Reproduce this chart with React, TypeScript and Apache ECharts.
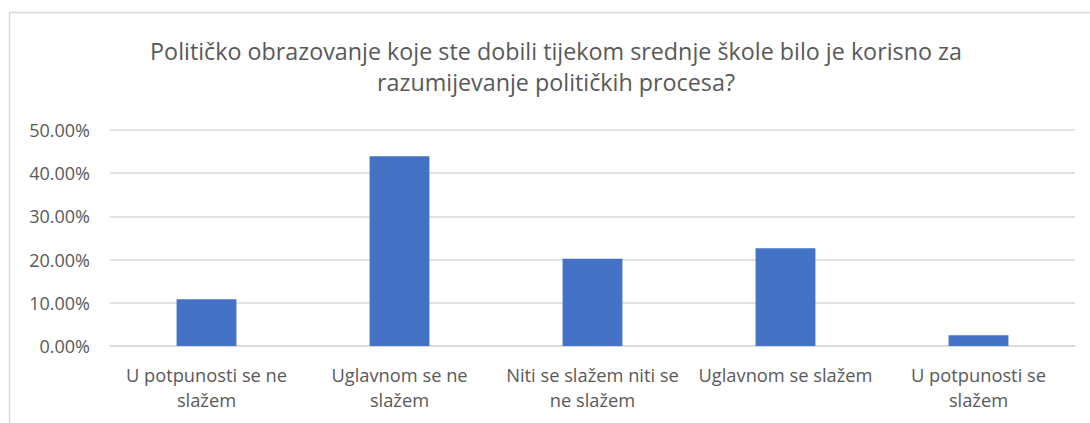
import React, { useEffect, useRef } from "react";
import * as echarts from "echarts";

const categories = [
  "U potpunosti se ne\nslažem",
  "Uglavnom se ne\nslažem",
  "Niti se slažem niti se\nne slažem",
  "Uglavnom se slažem",
  "U potpunosti se\nslažem",
];
const values = [10.8, 43.9, 20.2, 22.6, 2.5];
const titleText =
  "Političko obrazovanje koje ste dobili tijekom srednje škole bilo je korisno za\nrazumijevanje političkih procesa?";

const FONT = "'Open Sans', sans-serif";

export default function App() {
  const ref = useRef<HTMLDivElement>(null);
  useEffect(() => {
    if (!ref.current) return;
    const chart = echarts.init(ref.current, undefined, { renderer: "svg" });
    chart.setOption({
      animation: false,
      backgroundColor: "#ffffff",
      graphic: [
        {
          type: "rect",
          shape: { x: 9.5, y: 12.5, width: 1100, height: 430 },
          style: { fill: "none", stroke: "#d9d9d9", lineWidth: 1.5 },
          z: 0,
        },
        {
          type: "text",
          style: {
            text: titleText,
            x: 556,
            y: 35,
            textAlign: "center",
            textVerticalAlign: "top",
            fontFamily: FONT,
            fontSize: 23.3,
            lineHeight: 31,
            fill: "#595959",
          },
        },
      ],
      grid: { left: 110, right: 15, top: 130, bottom: 77, containLabel: false },
      xAxis: {
        type: "category",
        data: categories,
        axisLine: { lineStyle: { color: "#d9d9d9", width: 1.5 } },
        axisTick: { show: false },
        axisLabel: {
          interval: 0,
          color: "#595959",
          fontFamily: FONT,
          fontSize: 18.3,
          lineHeight: 25,
          margin: 16,
        },
      },
      yAxis: {
        type: "value",
        min: 0,
        max: 50,
        interval: 10,
        axisLine: { show: false },
        axisTick: { show: false },
        splitLine: { lineStyle: { color: "#d9d9d9", width: 1.5 } },
        axisLabel: {
          color: "#595959",
          fontFamily: FONT,
          fontSize: 18,
          margin: 20,
          formatter: (v: number) => v.toFixed(2) + "%",
        },
      },
      series: [
        {
          type: "bar",
          data: values,
          barWidth: "31%",
          itemStyle: { color: "#4472c4" },
        },
      ],
    });
    return () => chart.dispose();
  }, []);
  return (
    <div
      ref={ref}
      style={{ position: "fixed", left: 0, top: 0, width: 1090, height: 423 }}
    />
  );
}
